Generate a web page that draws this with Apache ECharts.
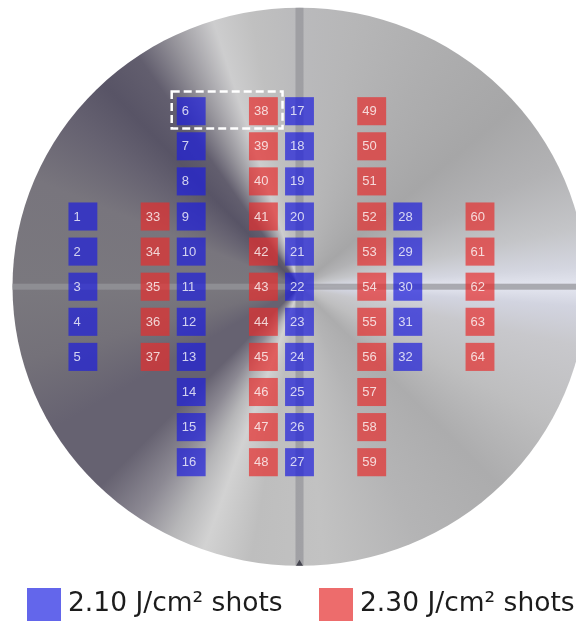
<!DOCTYPE html>
<html><head><meta charset="utf-8">
<script src="https://cdn.jsdelivr.net/npm/echarts@6/dist/echarts.min.js"></script>
<style>html,body{margin:0;padding:0;background:#fff}#c{width:576px;height:621px}</style>
</head><body><div id="c"></div>
<script>
// ---- data ----
const blueName = '2.10 J/cm² shots';
const redName = '2.30 J/cm² shots';
// [label, column, row]  (row 0 = wafer centre row, positive = up)
const blueShots = [
  [1,-6,2],[2,-6,1],[3,-6,0],[4,-6,-1],[5,-6,-2],
  [6,-3,5],[7,-3,4],[8,-3,3],[9,-3,2],[10,-3,1],[11,-3,0],[12,-3,-1],[13,-3,-2],[14,-3,-3],[15,-3,-4],[16,-3,-5],
  [17,0,5],[18,0,4],[19,0,3],[20,0,2],[21,0,1],[22,0,0],[23,0,-1],[24,0,-2],[25,0,-3],[26,0,-4],[27,0,-5],
  [28,3,2],[29,3,1],[30,3,0],[31,3,-1],[32,3,-2]
];
const redShots = [
  [33,-4,2],[34,-4,1],[35,-4,0],[36,-4,-1],[37,-4,-2],
  [38,-1,5],[39,-1,4],[40,-1,3],[41,-1,2],[42,-1,1],[43,-1,0],[44,-1,-1],[45,-1,-2],[46,-1,-3],[47,-1,-4],[48,-1,-5],
  [49,2,5],[50,2,4],[51,2,3],[52,2,2],[53,2,1],[54,2,0],[55,2,-1],[56,2,-2],[57,2,-3],[58,2,-4],[59,2,-5],
  [60,5,2],[61,5,1],[62,5,0],[63,5,-1],[64,5,-2]
];
const waferRadius = 7.95;
const highlightBox = [-3.54, -0.47, 4.51, 5.56]; // x0, x1, y0, y1

// ---- styles ----
const waferStops = [
  [0,186,186,188],[12,182,182,183],[30,174,174,175],[50,166,166,167],[65,178,178,180],
  [78,196,197,200],[86,212,214,224],[90,228,230,240],[94,210,212,224],[102,200,200,204],
  [118,190,190,191],[135,172,172,173],[155,180,180,181],[175,194,194,194],[190,190,190,190],
  [200,210,210,210],[207,182,182,184],[215,140,137,147],[225,102,98,113],[240,102,98,113],
  [255,116,113,121],[270,122,120,126],[292,120,117,125],[306,102,98,113],[316,88,84,102],
  [325,98,94,110],[333,150,148,155],[342,205,205,206],[350,192,192,192],[360,186,186,188]
];
const shotFill = {blue:'rgba(30,30,220,0.7)', red:'rgba(230,45,45,0.7)'};
const legendColor = {blue:'rgb(99,102,235)', red:'rgb(237,108,108)'};

function stopColor(deg){
  for (let i=1;i<waferStops.length;i++){
    const a=waferStops[i-1], b=waferStops[i];
    if (deg<=b[0]){
      const t=(deg-a[0])/((b[0]-a[0])||1);
      return 'rgb('+[1,2,3].map(k=>Math.round(a[k]+(b[k]-a[k])*t)).join(',')+')';
    }
  }
  return 'rgb(186,186,188)';
}

let waferCache = null;
function drawWafer(cx, cy, rx, ry, W, H){
  const key = [cx,cy,rx,ry,W,H].join('_');
  if (waferCache && waferCache.key===key) return waferCache.cv;
  const cv = document.createElement('canvas'); cv.width=W; cv.height=H;
  const ctx = cv.getContext('2d');
  ctx.save();
  ctx.beginPath(); ctx.ellipse(cx, cy, rx, ry, 0, 0, Math.PI*2); ctx.clip();
  if (ctx.createConicGradient){
    const g = ctx.createConicGradient(-Math.PI/2, cx, cy);
    waferStops.forEach(s=>g.addColorStop(s[0]/360, 'rgb('+s[1]+','+s[2]+','+s[3]+')'));
    ctx.fillStyle=g; ctx.fillRect(0,0,W,H);
  } else {
    const R = Math.max(W,H)*1.5;
    for (let d=0; d<360; d+=0.5){
      const a0=(d-90-0.3)*Math.PI/180, a1=(d+0.5-90+0.3)*Math.PI/180;
      ctx.beginPath(); ctx.moveTo(cx,cy);
      ctx.lineTo(cx+R*Math.cos(a0), cy+R*Math.sin(a0));
      ctx.lineTo(cx+R*Math.cos(a1), cy+R*Math.sin(a1));
      ctx.closePath(); ctx.fillStyle=stopColor(d+0.25); ctx.fill();
    }
  }
  ctx.fillStyle='rgba(150,150,155,0.75)';
  ctx.fillRect(cx-4, 0, 8, H);
  ctx.fillRect(0, cy-3, W, 6);
  // notch
  ctx.fillStyle='rgb(70,70,80)';
  ctx.beginPath(); ctx.moveTo(cx, cy+ry-6); ctx.lineTo(cx-4, cy+ry+1); ctx.lineTo(cx+4, cy+ry+1); ctx.closePath(); ctx.fill();
  ctx.restore();
  waferCache = {key, cv};
  return cv;
}

function renderWafer(params, api){
  const c = api.coord([0,0]);
  const rx = api.size([waferRadius,0])[0];
  const ry = api.size([0,waferRadius])[1];
  const W = api.getWidth(), H = api.getHeight();
  return {type:'image', silent:true, style:{image: drawWafer(c[0],c[1],rx,ry,W,H), x:0, y:0, width:W, height:H}};
}

function makeShotRenderer(fill){
  return function(params, api){
    const x = api.value(1), y = api.value(2);
    const p0 = api.coord([x-0.4, y+0.4]);
    const p1 = api.coord([x+0.4, y-0.4]);
    const w = p1[0]-p0[0], h = p1[1]-p0[1];
    return {type:'group', children:[
      {type:'rect', shape:{x:p0[0], y:p0[1], width:w, height:h}, style:{fill: fill}},
      {type:'text', style:{text:String(api.value(0)), x:p0[0]+5, y:p0[1]+h/2+0.5, align:'left', verticalAlign:'middle',
        fill:'rgba(255,255,255,0.78)', font:'13px "Liberation Sans", Arial, sans-serif'}}
    ]};
  };
}

function renderBox(params, api){
  const p0 = api.coord([api.value(0), api.value(3)]);
  const p1 = api.coord([api.value(1), api.value(2)]);
  return {type:'rect', shape:{x:p0[0], y:p0[1], width:p1[0]-p0[0], height:p1[1]-p0[1]},
    style:{fill:'none', stroke:'#ffffff', lineWidth:2.5, lineDash:[8,4]}};
}

const chart = echarts.init(document.getElementById('c'), null, {renderer:'canvas'});
const legendText = {fontSize:26.5, fontFamily:'"DejaVu Sans", Verdana, sans-serif', color:'#1c1c1c', padding:[0,0,0,2]};
chart.setOption({
  animation:false,
  backgroundColor:'#ffffff',
  grid:{left:10.7, top:5.9, width:563.16, height:561.6},
  xAxis:{type:'value', min:-8, max:7.6, show:false},
  yAxis:{type:'value', min:-8, max:8, show:false},
  legend:[
    {data:[{name:blueName, icon:'rect'}], left:27, top:588, padding:0, itemWidth:34, itemHeight:33, textStyle:legendText, selectedMode:false},
    {data:[{name:redName, icon:'rect'}], left:319, top:588, padding:0, itemWidth:34, itemHeight:33, textStyle:legendText, selectedMode:false}
  ],
  series:[
    {type:'custom', name:'wafer', renderItem:renderWafer, data:[[0,0]], silent:true, z:1},
    {type:'custom', name:blueName, renderItem:makeShotRenderer(shotFill.blue), data:blueShots,
      itemStyle:{color:legendColor.blue}, encode:{x:1,y:2}, z:2},
    {type:'custom', name:redName, renderItem:makeShotRenderer(shotFill.red), data:redShots,
      itemStyle:{color:legendColor.red}, encode:{x:1,y:2}, z:2},
    {type:'custom', name:'highlight', renderItem:renderBox, data:[highlightBox], silent:true, z:3}
  ]
});
</script>
</body></html>
